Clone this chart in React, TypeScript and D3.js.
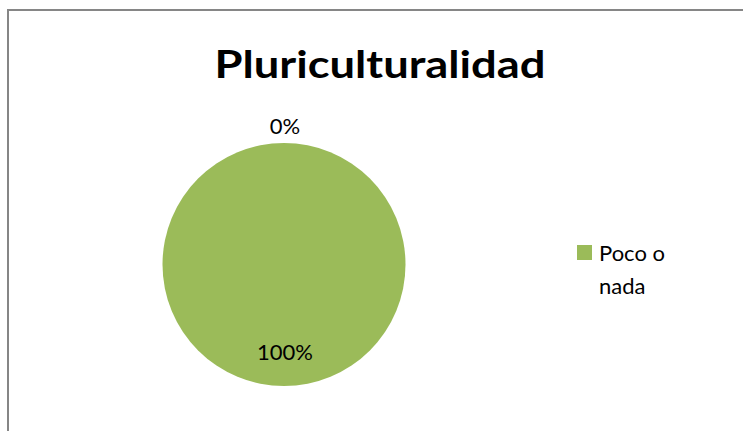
import React from "react";
import * as d3 from "d3";

const title = "Pluriculturalidad";
const categories = ["Otro", "Poco o nada"];
const values = [0, 100];
const percentLabels = ["0%", "100%"];
const colors = ["#4F81BD", "#9BBB59"];

export default function App() {
  const W = 743, H = 431;
  const cx = 284, cy = 264.5, r = 121.5;
  const pie = d3.pie<number>().sort(null).value((d) => d);
  const arcs = pie(values);
  const arc = d3.arc<d3.PieArcDatum<number>>().innerRadius(0).outerRadius(r);
  const font = "Lato, 'Open Sans', sans-serif";
  const fs = 22;
  return (
    <svg width={W} height={H} style={{ position: "absolute", left: 0, top: 0 }}>
      <rect x={0} y={0} width={W} height={H} fill="#fff" />
      <rect x={8} y={10} width={W + 20} height={H + 20} fill="#fff" stroke="#868686" strokeWidth={2} />
      <text x={380} y={78} textAnchor="middle" fontFamily={font} fontWeight="bold" fontSize={38} textLength={331} lengthAdjust="spacingAndGlyphs" fill="#000">
        {title}
      </text>
      <g transform={`translate(${cx},${cy})`}>
        {arcs.map((a, i) =>
          a.endAngle - a.startAngle > 0 ? (
            a.endAngle - a.startAngle >= 2 * Math.PI - 1e-6 ? (
              <circle key={i} r={r} fill={colors[i]} />
            ) : (
              <path key={i} d={arc(a) || ""} fill={colors[i]} />
            )
          ) : null
        )}
        {arcs.map((a, i) => {
          const mid = (a.startAngle + a.endAngle) / 2;
          const zero = a.endAngle - a.startAngle === 0;
          const rr = zero ? r + 17 : r * 0.72;
          const x = Math.sin(mid) * rr;
          const y = -Math.cos(mid) * rr;
          return (
            <text key={"l" + i} x={x + 1} y={y} dy="0.35em" textAnchor="middle" fontFamily={font} fontSize={fs} fill="#000">
              {percentLabels[i]}
            </text>
          );
        })}
      </g>
      {categories.map((c, i) =>
        values[i] > 0 ? (
          <g key={c}>
            <rect x={577} y={245} width={15} height={15} fill={colors[i]} />
            <text fontFamily={font} fontSize={fs} fill="#000">
              <tspan x={599} y={261}>Poco o</tspan>
              <tspan x={599} y={294}>nada</tspan>
            </text>
          </g>
        ) : null
      )}
    </svg>
  );
}
